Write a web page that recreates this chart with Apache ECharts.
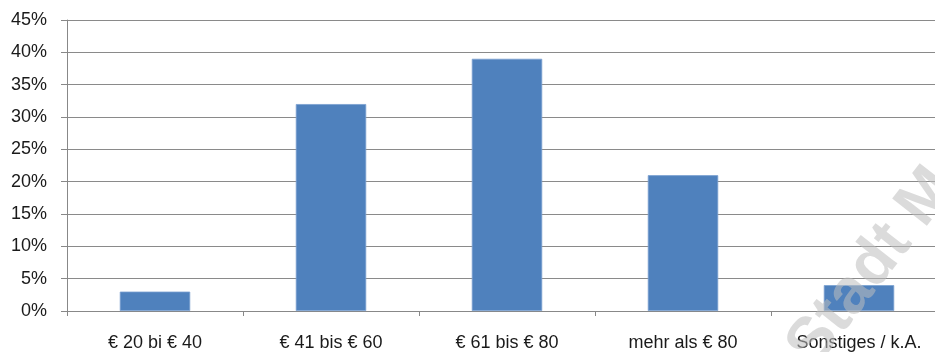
<!DOCTYPE html>
<html>
<head>
<meta charset="utf-8">
<script src="https://cdn.jsdelivr.net/npm/echarts@6/dist/echarts.min.js"></script>
<style>
  html, body { margin: 0; padding: 0; background: #fff; overflow: hidden; }
  #wrap { width: 935px; height: 352px; overflow: hidden; }
  #chart { width: 960px; height: 352px; }
</style>
</head>
<body>
<div id="wrap"><div id="chart"></div></div>
<script>
// Price brackets and share of responses (percent)
const categories = ['€ 20 bi € 40', '€ 41 bis € 60', '€ 61 bis € 80', 'mehr als € 80', 'Sonstiges / k.A.'];
const shares = [3, 32, 39, 21, 4];
const yTicks = [0, 5, 10, 15, 20, 25, 30, 35, 40, 45];

const chart = echarts.init(document.getElementById('chart'), null, { renderer: 'canvas' });

chart.setOption({
  animation: false,
  backgroundColor: '#ffffff',
  textStyle: { fontFamily: 'Liberation Sans, Arial, sans-serif' },
  grid: { left: 67, top: 20, width: 880, height: 291, containLabel: false },
  xAxis: {
    type: 'category',
    data: categories,
    axisLine: { show: true, lineStyle: { color: '#888888', width: 1 } },
    axisTick: { show: true, alignWithLabel: false, length: 5, lineStyle: { color: '#888888' } },
    axisLabel: { color: '#1a1a1a', fontSize: 18, margin: 23 },
    splitLine: { show: false }
  },
  yAxis: {
    type: 'value',
    min: yTicks[0],
    max: yTicks[yTicks.length - 1],
    interval: 5,
    axisLine: { show: true, lineStyle: { color: '#888888', width: 1 } },
    axisTick: { show: true, length: 6, lineStyle: { color: '#888888' } },
    axisLabel: { color: '#1a1a1a', fontSize: 18, margin: 20, formatter: v => v + '%' },
    splitLine: { show: true, lineStyle: { color: '#8a8a8a', width: 1.2 } }
  },
  series: [{
    type: 'bar',
    data: shares,
    barWidth: '40%',
    itemStyle: { color: '#4f81bd', borderColor: '#7a9fd0', borderWidth: 0.8 }
  }],
  graphic: [{
    type: 'text',
    x: 826,
    y: 378,
    rotation: 52 * Math.PI / 180,
    z: 100,
    style: {
      text: 'Stadt M',
      fill: 'rgba(190,190,190,0.55)',
      textAlign: 'left',
      textVerticalAlign: 'bottom',
      font: 'bold 64px "Liberation Sans", Arial, sans-serif'
    }
  }]
});
</script>
</body>
</html>
